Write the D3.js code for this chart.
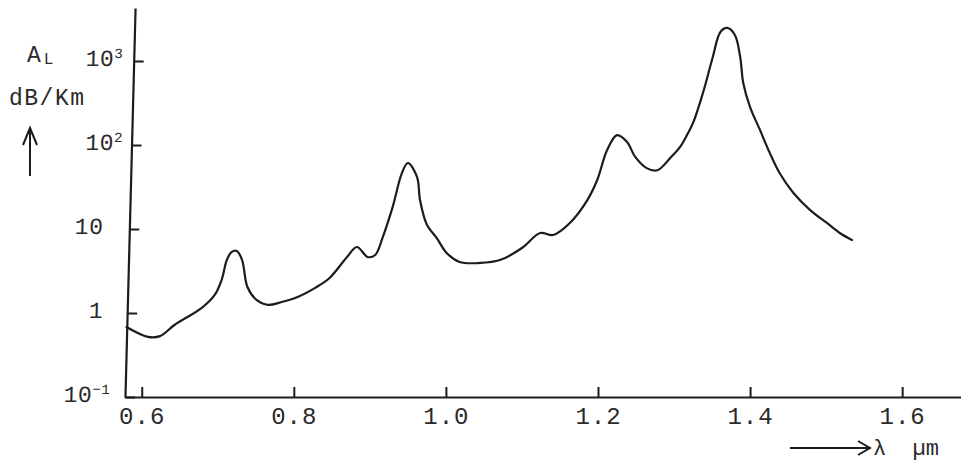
<!DOCTYPE html>
<html>
<head>
<meta charset="utf-8">
<script src="https://cdn.jsdelivr.net/npm/d3@7/dist/d3.min.js"></script>
<style>
  html, body { margin: 0; padding: 0; background: #ffffff; }
  svg { display: block; }
  text { font-family: "Liberation Mono", "DejaVu Sans Mono", monospace; fill: #2a2a2a; }
</style>
</head>
<body>
<svg id="chart" width="961" height="461"></svg>
<script>
// ---- data ----
const wavelength = [0.580,0.608,0.624,0.643,0.679,0.696,0.705,0.712,0.718,0.725,0.732,0.739,0.751,0.766,0.784,0.805,0.828,0.847,0.870,0.883,0.897,0.907,0.917,0.930,0.942,0.950,0.962,0.966,0.975,0.988,1.001,1.018,1.045,1.071,1.100,1.124,1.141,1.163,1.186,1.199,1.212,1.225,1.238,1.249,1.264,1.278,1.295,1.308,1.317,1.325,1.338,1.351,1.361,1.370,1.380,1.387,1.391,1.400,1.413,1.426,1.439,1.457,1.479,1.501,1.518,1.534];
const attenuation = [0.68,0.52,0.53,0.72,1.15,1.64,2.47,4.3,5.3,5.47,4.27,2.04,1.43,1.25,1.35,1.55,1.99,2.61,4.64,6.1,4.64,4.9,8.0,18.3,46,61,41.6,22,11.2,7.8,5.18,4.05,3.94,4.27,5.94,8.96,8.49,11.8,22.1,38.3,87,131,109,72,53,50,70,95,131,183,416,1116,2213,2471,2040,1116,547,283,151,80,46,26.8,16.8,11.8,8.96,7.4];
const xTicks = [0.6, 0.8, 1.0, 1.2, 1.4, 1.6];
const xTickLabels = ["0.6", "0.8", "1.0", "1.2", "1.4", "1.6"];
const yTicks = [0.1, 1, 10, 100, 1000];
const yTickBase = ["10", "1", "10", "10", "10"];
const yTickExp = ["\u2212\u0031", "", "", "2", "3"];
const yLabelMain = "A";
const yLabelSub = "L";
const yUnit = "dB/Km";
const xLabel = "\u03bb  \u00b5m";

// ---- layout/style ----
const yLabelDx = [-15, -24, -26, -8.6, -10.7];
const ink = "#1c1c1c";

const svg = d3.select("#chart");

const x = d3.scaleLinear().domain([0.578, 1.68]).range([125, 963]);
const y = d3.scaleLog().domain([0.1, 4270]).range([397, 8]);

// x axis
const gx = svg.append("g")
  .attr("transform", "translate(0,397)")
  .call(d3.axisBottom(x)
    .tickValues(xTicks)
    .tickSize(-10)
    .tickSizeOuter(0)
    .tickPadding(10)
    .tickFormat((d, i) => xTickLabels[i]));
gx.select(".domain").attr("stroke", ink).attr("stroke-width", 2.2);
gx.selectAll(".tick line").attr("stroke", ink).attr("stroke-width", 2);
gx.selectAll(".tick text")
  .attr("font-size", 24)
  .attr("letter-spacing", 1)
  .attr("fill", "#2a2a2a")
  .style("font-family", "'Liberation Mono', monospace");

// y axis (slightly skewed, like the scanned original)
const gy = svg.append("g")
  .attr("transform", "translate(135.3,0) skewX(-1.49)")
  .call(d3.axisLeft(y)
    .tickValues(yTicks)
    .tickSize(-10)
    .tickSizeOuter(0)
    .tickFormat(() => ""));
gy.select(".domain").attr("stroke", ink).attr("stroke-width", 2.2);
gy.selectAll(".tick line").attr("stroke", ink).attr("stroke-width", 2);
gy.selectAll(".tick text").remove();
gy.selectAll(".tick").each(function(d, i) {
  const t = d3.select(this).append("text")
    .attr("x", yLabelDx[i])
    .attr("y", -3)
    .attr("dy", "0.32em")
    .attr("text-anchor", "end")
    .attr("font-size", 23)
    .attr("letter-spacing", 0.5)
    .attr("fill", "#2a2a2a")
    .style("font-family", "'Liberation Mono', monospace");
  t.append("tspan").text(yTickBase[i]);
  if (yTickExp[i]) {
    t.append("tspan").attr("font-size", 14).attr("dy", -8).text(yTickExp[i]);
  }
});

// curve
const pts = wavelength.map((w, i) => [w, attenuation[i]]);
svg.append("path")
  .datum(pts)
  .attr("fill", "none")
  .attr("stroke", ink)
  .attr("stroke-width", 2.2)
  .attr("stroke-linejoin", "round")
  .attr("stroke-linecap", "round")
  .attr("d", d3.line()
    .x(d => x(d[0]))
    .y(d => y(d[1]))
    .curve(d3.curveCatmullRom.alpha(0.5)));

// y label
const yl = svg.append("text")
  .attr("x", 27).attr("y", 62)
  .attr("font-size", 23);
yl.append("tspan").text(yLabelMain);
yl.append("tspan").attr("font-size", 16).attr("dy", 2).attr("dx", 3).text(yLabelSub);

svg.append("text")
  .attr("x", 9).attr("y", 105)
  .attr("font-size", 23)
  .attr("letter-spacing", 1.5)
  .text(yUnit);

// up arrow
svg.append("line").attr("x1", 30).attr("y1", 176).attr("x2", 30).attr("y2", 129)
  .attr("stroke", ink).attr("stroke-width", 2);
svg.append("polyline").attr("points", "23,145 30,128 37,145")
  .attr("fill", "none").attr("stroke", ink).attr("stroke-width", 2);

// right arrow + x label
svg.append("line").attr("x1", 790).attr("y1", 448).attr("x2", 869).attr("y2", 448)
  .attr("stroke", ink).attr("stroke-width", 2);
svg.append("polyline").attr("points", "858,441 870,448 858,455")
  .attr("fill", "none").attr("stroke", ink).attr("stroke-width", 2);
svg.append("text")
  .attr("x", 873).attr("y", 455)
  .attr("font-size", 22)
  .attr("xml:space", "preserve")
  .style("white-space", "pre")
  .text(xLabel);
</script>
</body>
</html>
